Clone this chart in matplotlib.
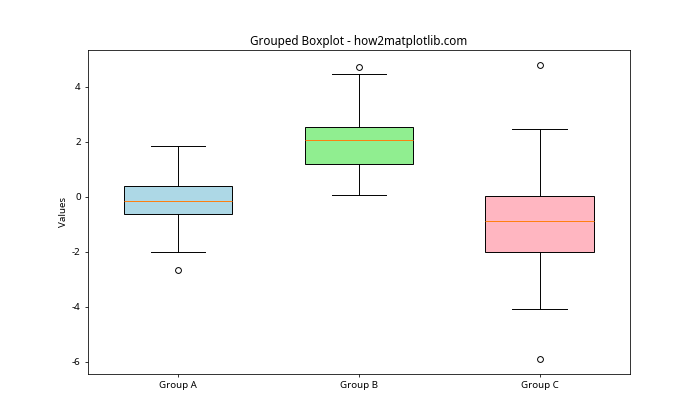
import matplotlib
matplotlib.use('Agg')
import matplotlib.pyplot as plt

plt.rcParams['font.family'] = ['Noto Sans', 'DejaVu Sans']
plt.rcParams['axes.unicode_minus'] = False

# Box statistics
groups = ['Group A', 'Group B', 'Group C']
whisker_low = [-2.01, 0.06, -4.07]
q1 = [-0.62, 1.19, -2.00]
median = [-0.16, 2.06, -0.88]
q3 = [0.39, 2.53, 0.03]
whisker_high = [1.85, 4.46, 2.46]
outliers = [[-2.65], [4.73], [4.79, -5.90]]
colors = ['lightblue', 'lightgreen', 'lightpink']

stats = []
for i, name in enumerate(groups):
    stats.append({
        'label': name,
        'whislo': whisker_low[i],
        'q1': q1[i],
        'med': median[i],
        'q3': q3[i],
        'whishi': whisker_high[i],
        'fliers': outliers[i],
    })

fig, ax = plt.subplots(figsize=(10, 6), dpi=70)
bp = ax.bxp(stats, patch_artist=True, widths=0.6)
for patch, color in zip(bp['boxes'], colors):
    patch.set_facecolor(color)

ax.set_title('Grouped Boxplot - how2matplotlib.com')
ax.set_ylabel('Values')

fig.savefig('out.png')
